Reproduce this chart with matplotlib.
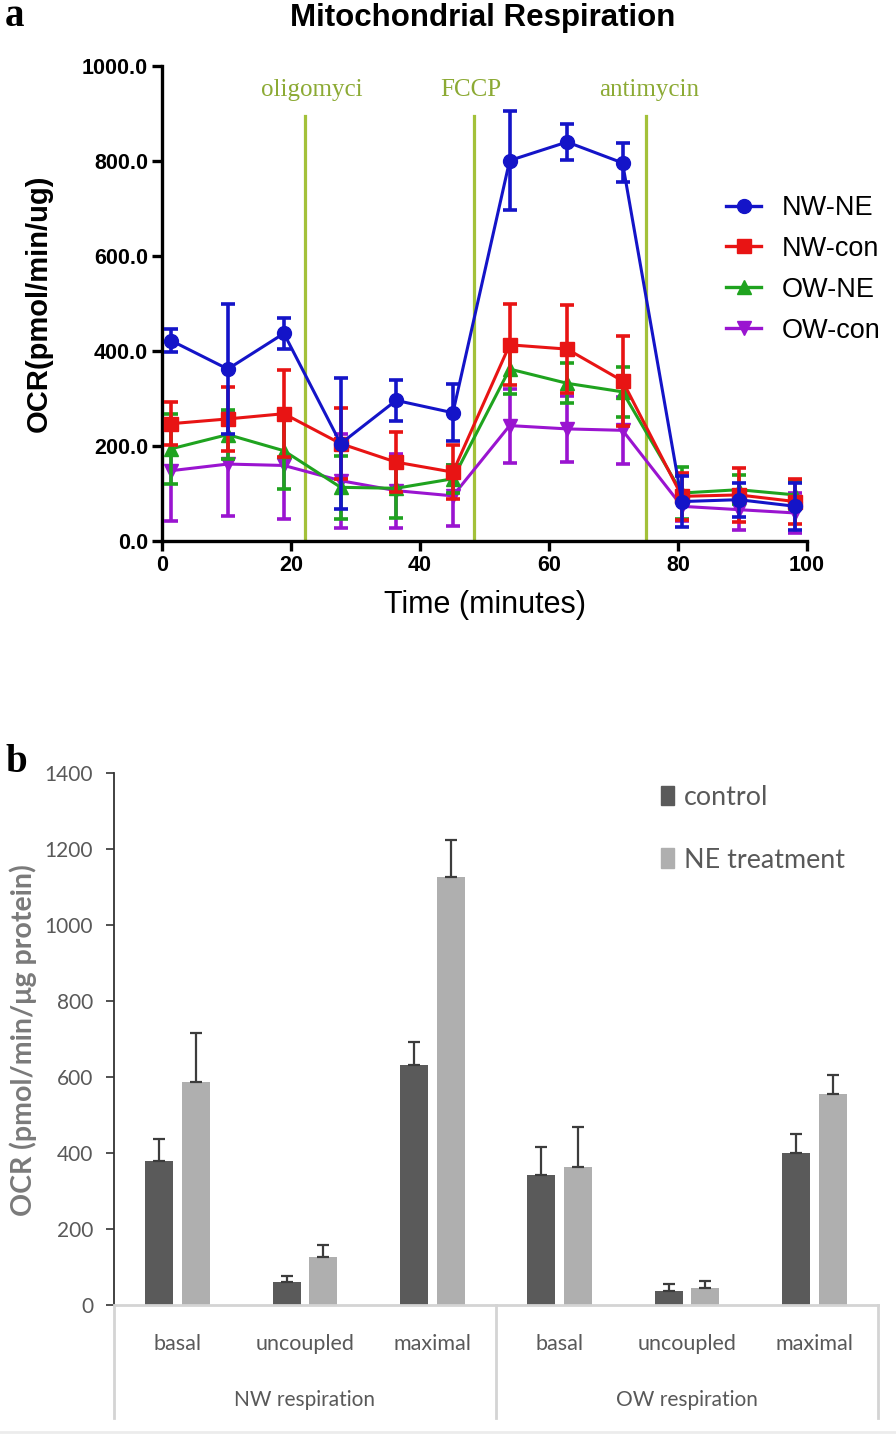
import matplotlib
matplotlib.use("Agg")
import matplotlib.pyplot as plt
from matplotlib.lines import Line2D
from matplotlib.patches import Patch
import numpy as np

# ---- panel a: Seahorse time course ----
time_min = [1.4, 10.2, 18.9, 27.7, 36.3, 45.1, 53.9, 62.8, 71.4, 80.6, 89.4, 98.2]

nw_ne = [422, 362, 437, 205, 296, 270, 801, 840, 796, 83, 87, 73]
nw_ne_err = [25, 137, 32, 138, 43, 60, 105, 38, 41, 53, 36, 50]
nw_con = [247, 257, 268, 205, 166, 145, 413, 404, 337, 94, 97, 83]
nw_con_err = [45, 67, 92, 74, 63, 57, 85, 93, 95, 50, 56, 47]
ow_ne = [194, 224, 190, 113, 111, 131, 362, 332, 314, 101, 108, 97]
ow_ne_err = [74, 51, 81, 66, 62, 30, 53, 42, 52, 55, 30, 30]
ow_con = [148, 162, 159, 127, 106, 95, 243, 236, 233, 73, 66, 59]
ow_con_err = [106, 109, 112, 99, 78, 64, 78, 70, 70, 30, 42, 42]

injections = ["oligomyci", "FCCP", "antimycin"]
injection_times = [22.2, 48.3, 75.0]
injection_label_x = [23.3, 47.8, 75.5]

# ---- panel b: summary bars ----
categories = ["basal", "uncoupled", "maximal", "basal", "uncoupled", "maximal"]
groups = ["NW respiration", "OW respiration"]
control = [379, 61, 632, 343, 37, 401]
control_err = [58, 15, 59, 72, 18, 49]
ne_treat = [587, 126, 1126, 364, 46, 554]
ne_treat_err = [128, 31, 98, 104, 17, 52]

BLUE = "#1414c8"
RED = "#e81414"
GREEN = "#1fa31f"
PURPLE = "#9a14d0"
OLIVE_LINE = "#a3c13a"
OLIVE_TEXT = "#8caa34"
DARK_BAR = "#5a5a5a"
LIGHT_BAR = "#afafaf"
GRAY_TEXT = "#595959"
RULE = "#d4d4d4"

SANS = ["Liberation Sans", "DejaVu Sans"]
SERIF = ["Liberation Serif", "DejaVu Serif"]
SOFT = ["Lato", "DejaVu Sans"]

fig = plt.figure(figsize=(8.96, 14.35), dpi=100, facecolor="white")

# =========== panel a ===========
ax = fig.add_axes([0.1808, 0.623, 0.7199, 0.331])

series = [
    ("OW-con", ow_con, ow_con_err, PURPLE, "v"),
    ("OW-NE", ow_ne, ow_ne_err, GREEN, "^"),
    ("NW-con", nw_con, nw_con_err, RED, "s"),
    ("NW-NE", nw_ne, nw_ne_err, BLUE, "o"),
]
for i, (name, vals, err, color, mk) in enumerate(series):
    ax.errorbar(time_min, vals, yerr=err, color=color, marker=mk, markersize=10,
                lw=2.2, elinewidth=2.6, capsize=5, capthick=2.6, zorder=3 + i)

for t in injection_times:
    ax.plot([t, t], [0, 895], color=OLIVE_LINE, lw=2.3, zorder=2)
for name, x in zip(injections, injection_label_x):
    ax.text(x, 950, name, color=OLIVE_TEXT, fontsize=18, family=SERIF,
            ha="center", va="center")

ax.set_xlim(0, 100)
ax.set_ylim(0, 1000)
ax.set_xticks([0, 20, 40, 60, 80, 100])
ax.set_yticks([0, 200, 400, 600, 800, 1000])
ax.set_yticklabels([f"{v:.1f}" for v in [0, 200, 400, 600, 800, 1000]])
for spine in ["top", "right"]:
    ax.spines[spine].set_visible(False)
for spine in ["left", "bottom"]:
    ax.spines[spine].set_linewidth(2.4)
ax.tick_params(width=2.4, length=7, pad=3, labelsize=15.5)
for lab in ax.get_xticklabels() + ax.get_yticklabels():
    lab.set_fontweight("bold")
    lab.set_family(SANS)

ax.set_ylabel("OCR(pmol/min/ug)", fontsize=21, fontweight="bold", family=SANS)
ax.yaxis.set_label_coords(-0.17, 0.5)
ax.set_xlabel("Time (minutes)", fontsize=22, family=SANS, labelpad=10)

handles = [Line2D([0], [0], color=c, marker=m, lw=2.4, markersize=10)
           for c, m in [(BLUE, "o"), (RED, "s"), (GREEN, "^"), (PURPLE, "v")]]
ax.legend(handles, ["NW-NE", "NW-con", "OW-NE", "OW-con"],
          loc="upper left", bbox_to_anchor=(726 / 896, 1 - 195 / 1435),
          bbox_transform=fig.transFigure, frameon=False,
          prop={"family": SANS, "size": 19.5}, handlelength=1.3,
          handletextpad=0.75, labelspacing=0.55, borderpad=0, borderaxespad=0)

fig.text(483 / 896, 1 - 18 / 1435, "Mitochondrial Respiration", fontsize=22.5,
         fontweight="bold", family=SANS, ha="center", va="center")
fig.text(5 / 896, 1 - 26 / 1435, "a", fontsize=28, fontweight="bold",
         family=SERIF, ha="left", va="baseline")

# =========== panel b ===========
bx = fig.add_axes([0.1272, 0.0906, 0.8527, 0.3707])
pos = np.arange(len(categories))
width = 0.22
off = 0.143
bx.bar(pos - off, control, width, color=DARK_BAR, zorder=2,
       yerr=[np.zeros(len(control)), control_err],
       error_kw=dict(ecolor="#3c3c3c", elinewidth=1.6, capsize=4.5, capthick=1.6))
bx.bar(pos + off, ne_treat, width, color=LIGHT_BAR, zorder=2,
       yerr=[np.zeros(len(ne_treat)), ne_treat_err],
       error_kw=dict(ecolor="#3c3c3c", elinewidth=1.6, capsize=4.5, capthick=1.6))

bx.set_xlim(-0.5, len(categories) - 0.5)
bx.set_ylim(0, 1400)
bx.set_yticks(range(0, 1401, 200))
bx.spines["top"].set_visible(False)
bx.spines["right"].set_visible(False)
bx.spines["left"].set_color("#333333")
bx.spines["left"].set_linewidth(1.3)
bx.spines["bottom"].set_color(RULE)
bx.spines["bottom"].set_linewidth(2)
bx.tick_params(axis="y", length=6, width=1.2, color="#333333", pad=9,
               labelsize=15, labelcolor=GRAY_TEXT)
bx.set_xticks(pos)
bx.set_xticklabels(categories)
bx.tick_params(axis="x", length=0, pad=21, labelsize=15.5, labelcolor=GRAY_TEXT)
for lab in bx.get_xticklabels() + bx.get_yticklabels():
    lab.set_family(SOFT)

# group brackets under the category labels
for x in [0.0, 0.5, 1.0]:
    bx.plot([x, x], [0, -0.213], color=RULE, lw=2, transform=bx.transAxes,
            clip_on=False)
for g, x in zip(groups, [0.25, 0.75]):
    bx.text(x, -0.179, g, transform=bx.transAxes, ha="center", va="center",
            fontsize=15, color=GRAY_TEXT, family=SOFT)

bx.set_ylabel("OCR (pmol/min/μg protein)", fontsize=20.5, fontweight="bold",
              color="#7a7a7a", family=SOFT)
bx.yaxis.set_label_coords(-0.1008, 0.498)

bx.legend([Patch(color=DARK_BAR), Patch(color=LIGHT_BAR)],
          ["control", "NE treatment"], loc="upper left",
          bbox_to_anchor=(661 / 896, 1 - 785 / 1435),
          bbox_transform=fig.transFigure, frameon=False,
          prop={"family": SOFT, "size": 19.4}, labelcolor=GRAY_TEXT,
          handlelength=0.5, handleheight=0.75, handletextpad=0.35,
          labelspacing=1.4, borderpad=0, borderaxespad=0)

fig.text(5 / 896, 1 - 772 / 1435, "b", fontsize=28, fontweight="bold",
         family=SERIF, ha="left", va="baseline")

# faint strip along the bottom edge of the figure
fig.add_artist(Line2D([0, 1], [3.5 / 1435, 3.5 / 1435], color="#ececec", lw=2,
                      transform=fig.transFigure))

fig.savefig("out.png", dpi=100, facecolor="white")
